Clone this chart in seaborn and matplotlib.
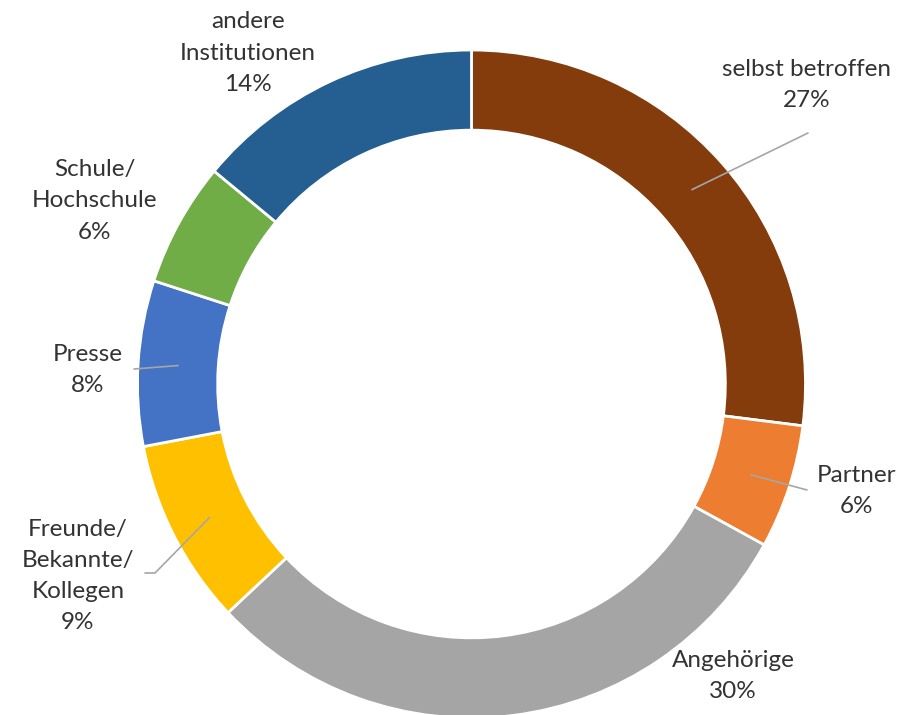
import numpy as np
import matplotlib.pyplot as plt
import seaborn as sns

# --- data ---
categories = ["selbst betroffen", "Partner", "Angehörige", "Freunde/\nBekannte/\nKollegen",
              "Presse", "Schule/\nHochschule", "andere\nInstitutionen"]
shares = [27, 6, 30, 9, 8, 6, 14]
colors = ["#843C0C", "#ED7D31", "#A5A5A5", "#FFC000", "#4472C4", "#70AD47", "#255E91"]

# --- layout (pixel positions in the 917x715 picture) ---
W, H = 917, 715
CX, CY, R = 471.5, 384, 334
label_px = [(807, 85), (857, 491), (733, 676), (78, 576), (88, 370), (95, 201), (248, 53)]
# where the leader line starts near the label (None = no leader)
leader_px = [(808, 133), (807, 490), None, [(145, 573), (155, 573)], (134, 369), None, None]


def to_data(p):
    return ((p[0] - CX) / R, (CY - p[1]) / R)


sns.set_theme(style="white")
plt.rcParams['font.family'] = ['Lato', 'DejaVu Sans']

fig = plt.figure(figsize=(W / 100, H / 100), dpi=100)
ax = fig.add_axes([0, 0, 1, 1])

wedges, _ = ax.pie(shares, colors=colors, startangle=90, counterclock=False, radius=1,
                   wedgeprops=dict(width=0.24, edgecolor="white", linewidth=2))

ax.set_xlim(-CX / R, (W - CX) / R)
ax.set_ylim(-(H - CY) / R, CY / R)
ax.set_aspect("equal")
ax.axis("off")

total = sum(shares)
for i, (cat, val) in enumerate(zip(categories, shares)):
    tx, ty = to_data(label_px[i])
    ax.text(tx, ty, f"{cat}\n{round(val / total * 100)}%", ha="center", va="center",
            fontsize=17.5, color="#333333", linespacing=1.6)

    lead = leader_px[i]
    if lead is None:
        continue
    w = wedges[i]
    mid = np.deg2rad((w.theta1 + w.theta2) / 2)
    target = (0.88 * np.cos(mid), 0.88 * np.sin(mid))
    pts = lead if isinstance(lead, list) else [lead]
    xs = [to_data(p)[0] for p in pts] + [target[0]]
    ys = [to_data(p)[1] for p in pts] + [target[1]]
    ax.plot(xs, ys, color="#A6A6A6", lw=1.2, zorder=5)

fig.savefig("out.png", dpi=100, facecolor="white")
